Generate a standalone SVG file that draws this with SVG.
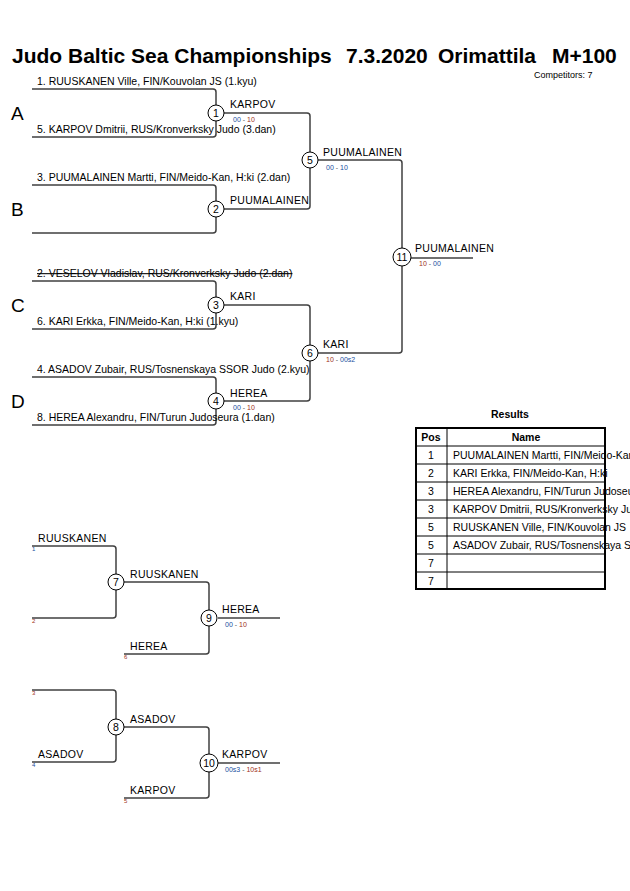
<svg xmlns="http://www.w3.org/2000/svg" width="630" height="891" viewBox="0 0 630 891">
<style>
.bg{fill:#ffffff}
.ln{fill:none;stroke:#404040;stroke-width:1.5}
.t{font-family:"Liberation Sans",Arial,sans-serif;font-size:10.5px;fill:#000}
.w{font-family:"Liberation Sans",Arial,sans-serif;font-size:10.5px;fill:#000;letter-spacing:0.3px}
.sc{font-family:"Liberation Sans",Arial,sans-serif;font-size:7px}
.b{fill:#2050a0}
.r{fill:#a03020}
.g{fill:#555}
.pool{font-family:"Liberation Sans",Arial,sans-serif;font-size:19px;fill:#000}
.title{font-family:"Liberation Sans",Arial,sans-serif;font-size:21px;font-weight:bold;fill:#000}
.c{fill:#fff;stroke:#000;stroke-width:1}
.cn{font-family:"Liberation Sans",Arial,sans-serif;font-size:10.5px;fill:#000;text-anchor:middle}
.tiny{font-family:"Liberation Sans",Arial,sans-serif;font-size:6px}
.hd{font-family:"Liberation Sans",Arial,sans-serif;font-size:10.5px;font-weight:bold;fill:#000;text-anchor:middle}
.tc{font-family:"Liberation Sans",Arial,sans-serif;font-size:10.5px;fill:#000}
.tbo{fill:none;stroke:#000;stroke-width:2}
.tbi{fill:none;stroke:#000;stroke-width:1}
</style>
<rect class="bg" x="0" y="0" width="630" height="891"/>

<g id="title">
<text class="title" x="12" y="63">Judo Baltic Sea Championships</text>
<text class="title" x="346" y="63">7.3.2020</text>
<text class="title" x="438" y="63">Orimattila</text>
<text class="title" x="552" y="63">M+100</text>
<text x="534" y="78" font-family="Liberation Sans, Arial, sans-serif" font-size="9px" fill="#000">Competitors: 7</text>
</g>

<g id="pools">
<text class="pool" x="11" y="120">A</text>
<text class="pool" x="11" y="216">B</text>
<text class="pool" x="11" y="312">C</text>
<text class="pool" x="11" y="408">D</text>
</g>

<g id="connectors">
<path class="ln" d="M32,89 H213 Q216,89 216,92 V105"/>
<path class="ln" d="M32,137 H213 Q216,137 216,134 V121"/>
<path class="ln" d="M32,185 H213 Q216,185 216,188 V201"/>
<path class="ln" d="M32,233 H213 Q216,233 216,230 V217"/>
<path class="ln" d="M32,281 H213 Q216,281 216,284 V297"/>
<path class="ln" d="M32,329 H213 Q216,329 216,326 V313"/>
<path class="ln" d="M32,377 H213 Q216,377 216,380 V393"/>
<path class="ln" d="M32,425 H213 Q216,425 216,422 V409"/>
<path class="ln" d="M224,113 H307 Q310,113 310,116 V152"/>
<path class="ln" d="M224,209 H307 Q310,209 310,206 V168"/>
<path class="ln" d="M224,305 H307 Q310,305 310,308 V345"/>
<path class="ln" d="M224,401 H307 Q310,401 310,398 V361"/>
<path class="ln" d="M318,160 H399 Q402,160 402,163 V248"/>
<path class="ln" d="M318,353 H399 Q402,353 402,350 V266"/>
<path class="ln" d="M411,258 H473"/>
<path class="ln" d="M32,546 H113 Q116,546 116,549 V574"/>
<path class="ln" d="M32,618 H113 Q116,618 116,615 V590"/>
<path class="ln" d="M124,582 H206 Q209,582 209,585 V610"/>
<path class="ln" d="M124,654 H206 Q209,654 209,651 V626"/>
<path class="ln" d="M218,618 H280"/>
<path class="ln" d="M32,690 H113 Q116,690 116,693 V719"/>
<path class="ln" d="M32,762 H113 Q116,762 116,759 V735"/>
<path class="ln" d="M124,727 H206 Q209,727 209,730 V754"/>
<path class="ln" d="M124,798 H206 Q209,798 209,795 V771"/>
<path class="ln" d="M218,763 H280"/>
</g>

<g id="competitors">
<text class="t" x="37" y="85">1. RUUSKANEN Ville, FIN/Kouvolan JS (1.kyu)</text>
<text class="t" x="37" y="133">5. KARPOV Dmitrii, RUS/Kronverksky Judo (3.dan)</text>
<text class="t" x="37" y="181">3. PUUMALAINEN Martti, FIN/Meido-Kan, H:ki (2.dan)</text>
<text class="t" x="37" y="277" text-decoration="line-through">2. VESELOV Vladislav, RUS/Kronverksky Judo (2.dan)</text>
<text class="t" x="37" y="325">6. KARI Erkka, FIN/Meido-Kan, H:ki (1.kyu)</text>
<text class="t" x="37" y="373">4. ASADOV Zubair, RUS/Tosnenskaya SSOR Judo (2.kyu)</text>
<text class="t" x="37" y="421">8. HEREA Alexandru, FIN/Turun Judoseura (1.dan)</text>
</g>

<g id="match1">
<circle class="c" cx="216" cy="113" r="8"/>
<text class="cn" x="216" y="117">1</text>
<text class="w" x="230" y="108">KARPOV</text>
<text class="sc" x="233" y="122"><tspan class="b">00</tspan><tspan class="g"> - </tspan><tspan class="r">10</tspan></text>
</g>
<g id="match2">
<circle class="c" cx="216" cy="209" r="8"/>
<text class="cn" x="216" y="213">2</text>
<text class="w" x="230" y="204">PUUMALAINEN</text>
</g>
<g id="match3">
<circle class="c" cx="216" cy="305" r="8"/>
<text class="cn" x="216" y="309">3</text>
<text class="w" x="230" y="300">KARI</text>
</g>
<g id="match4">
<circle class="c" cx="216" cy="401" r="8"/>
<text class="cn" x="216" y="405">4</text>
<text class="w" x="230" y="397">HEREA</text>
<text class="sc" x="233" y="410"><tspan class="b">00</tspan><tspan class="g"> - </tspan><tspan class="r">10</tspan></text>
</g>
<g id="match5">
<circle class="c" cx="310" cy="160" r="8"/>
<text class="cn" x="310" y="164">5</text>
<text class="w" x="323" y="156">PUUMALAINEN</text>
<text class="sc" x="326" y="170"><tspan class="b">00</tspan><tspan class="g"> - </tspan><tspan class="b">10</tspan></text>
</g>
<g id="match6">
<circle class="c" cx="310" cy="353" r="8"/>
<text class="cn" x="310" y="357">6</text>
<text class="w" x="323" y="348">KARI</text>
<text class="sc" x="326" y="362"><tspan class="r">10</tspan><tspan class="g"> - </tspan><tspan class="b">00s2</tspan></text>
</g>
<g id="match11">
<circle class="c" cx="402" cy="257" r="9"/>
<text class="cn" x="402" y="261">11</text>
<text class="w" x="415" y="252">PUUMALAINEN</text>
<text class="sc" x="419" y="266"><tspan class="r">10</tspan><tspan class="g"> - </tspan><tspan class="b">00</tspan></text>
</g>

<g id="results">
<text class="hd" x="510" y="418">Results</text>
<rect class="tbo" x="416" y="428" width="189" height="161"/>
<line class="tbi" x1="447" y1="428" x2="447" y2="589"/>
<line class="tbi" x1="416" y1="446" x2="605" y2="446"/>
<line class="tbi" x1="416" y1="464" x2="605" y2="464"/>
<line class="tbi" x1="416" y1="482" x2="605" y2="482"/>
<line class="tbi" x1="416" y1="500" x2="605" y2="500"/>
<line class="tbi" x1="416" y1="518" x2="605" y2="518"/>
<line class="tbi" x1="416" y1="536" x2="605" y2="536"/>
<line class="tbi" x1="416" y1="554" x2="605" y2="554"/>
<line class="tbi" x1="416" y1="572" x2="605" y2="572"/>
<text class="hd" x="431" y="441">Pos</text>
<text class="hd" x="526" y="441">Name</text>
<text class="tc" x="431" y="459" text-anchor="middle">1</text>
<text class="tc" x="431" y="477" text-anchor="middle">2</text>
<text class="tc" x="431" y="495" text-anchor="middle">3</text>
<text class="tc" x="431" y="513" text-anchor="middle">3</text>
<text class="tc" x="431" y="531" text-anchor="middle">5</text>
<text class="tc" x="431" y="549" text-anchor="middle">5</text>
<text class="tc" x="431" y="567" text-anchor="middle">7</text>
<text class="tc" x="431" y="585" text-anchor="middle">7</text>
<text class="tc" x="453" y="459">PUUMALAINEN Martti, FIN/Meido-Kan, H:ki</text>
<text class="tc" x="453" y="477">KARI Erkka, FIN/Meido-Kan, H:ki</text>
<text class="tc" x="453" y="495">HEREA Alexandru, FIN/Turun Judoseura</text>
<text class="tc" x="453" y="513">KARPOV Dmitrii, RUS/Kronverksky Judo</text>
<text class="tc" x="453" y="531">RUUSKANEN Ville, FIN/Kouvolan JS</text>
<text class="tc" x="453" y="549">ASADOV Zubair, RUS/Tosnenskaya SSOR Judo</text>
</g>

<g id="repechage1">
<text class="w" x="38" y="542">RUUSKANEN</text>
<text class="tiny b" x="32" y="551">1</text>
<text class="tiny r" x="32" y="623">2</text>
<text class="tiny r" x="124" y="659">6</text>
<text class="w" x="130" y="650">HEREA</text>
</g>
<g id="match7">
<circle class="c" cx="116" cy="582" r="8"/>
<text class="cn" x="116" y="586">7</text>
<text class="w" x="130" y="578">RUUSKANEN</text>
</g>
<g id="match9">
<circle class="c" cx="209" cy="618" r="8"/>
<text class="cn" x="209" y="622">9</text>
<text class="w" x="222" y="613">HEREA</text>
<text class="sc" x="225" y="627"><tspan class="b">00</tspan><tspan class="g"> - </tspan><tspan class="r">10</tspan></text>
</g>

<g id="repechage2">
<text class="tiny r" x="32" y="695">3</text>
<text class="w" x="38" y="758">ASADOV</text>
<text class="tiny b" x="32" y="767">4</text>
<text class="tiny r" x="124" y="803">5</text>
<text class="w" x="130" y="794">KARPOV</text>
</g>
<g id="match8">
<circle class="c" cx="116" cy="727" r="8"/>
<text class="cn" x="116" y="731">8</text>
<text class="w" x="130" y="723">ASADOV</text>
</g>
<g id="match10">
<circle class="c" cx="209" cy="763" r="9"/>
<text class="cn" x="209" y="767">10</text>
<text class="w" x="222" y="758">KARPOV</text>
<text class="sc" x="225" y="772"><tspan class="b">00s3</tspan><tspan class="g"> - </tspan><tspan class="r">10s1</tspan></text>
</g>
</svg>
